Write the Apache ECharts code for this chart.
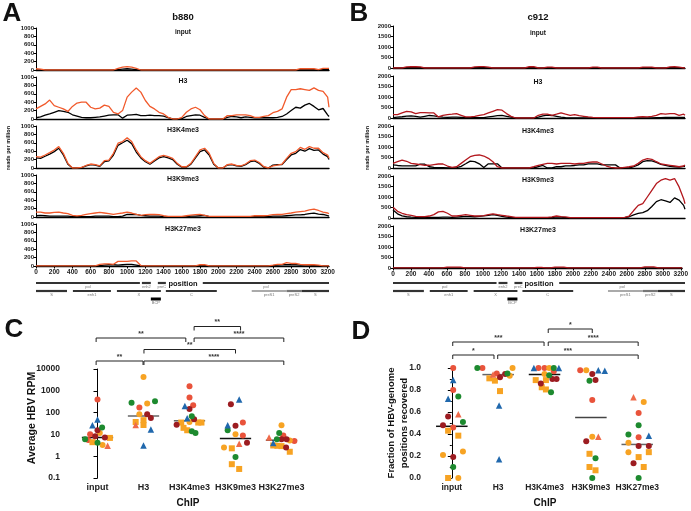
<!DOCTYPE html>
<html>
<head>
<meta charset="utf-8">
<script src="https://cdn.jsdelivr.net/npm/echarts@6/dist/echarts.min.js"></script>
<style>html,body{margin:0;padding:0;background:#fff}#main{width:691px;height:511px}</style>
</head>
<body>
<div id="main"></div>
<script>
var FF = '"Liberation Sans", Arial, sans-serif';

// genome positions of the coverage bins
var pos = [0,50,100,150,200,250,300,350,400,450,
  500,550,600,650,700,750,800,850,900,950,
  1000,1050,1100,1150,1200,1250,1300,1350,1400,1450,
  1500,1550,1600,1650,1700,1750,1800,1850,1900,1950,
  2000,2050,2100,2150,2200,2250,2300,2350,2400,2450,
  2500,2550,2600,2650,2700,2750,2800,2850,2900,2950,
  3000,3050,3100,3150,3200,3215];

var trackNames = ['input', 'H3', 'H3K4me3', 'H3K9me3', 'H3K27me3'];

// b880 (panel A), reads per million
var aInRed = [30,20,0,0,0,0,0,0,0,0, 0,0,0,0,0,0,0,0,40,70, 80,70,40,0,0,0,0,0,0,0, 0,0,0,0,0,0,0,0,0,0, 0,0,0,0,0,0,0,0,0,0, 0,0,0,0,0,0,0,0,30,30, 30,30,10,40,40,40];
var aInBlack = [5,5,0,0,0,0,0,0,0,0, 0,0,0,0,0,0,0,0,10,20, 30,20,10,0,0,0,0,0,0,0, 0,0,0,0,0,0,0,0,0,0, 0,0,0,0,0,0,0,0,0,0, 0,0,0,0,0,0,0,0,10,10, 10,10,0,10,10,10];
var aH3Red = [240,300,360,450,320,280,240,180,300,380, 400,400,280,240,260,330,300,160,120,200, 520,640,740,640,440,300,240,160,120,40, 0,0,40,160,240,280,220,80,0,0, 0,0,80,80,100,100,100,80,40,40, 60,80,150,180,240,520,700,700,720,700, 680,740,680,660,520,280];
var aH3Black = [30,50,90,120,160,200,180,160,100,70, 40,30,30,40,50,70,90,100,100,20, 90,100,110,80,80,90,80,80,70,30, 0,0,10,60,80,100,90,40,0,0, 0,0,40,60,50,30,50,40,30,30, 30,30,30,40,60,120,200,280,260,330, 370,300,220,250,100,60];
var aK4Red = [270,260,310,365,430,510,350,110,0,0, 15,60,95,80,50,175,190,350,590,630, 720,630,430,270,175,110,190,270,300,270, 230,110,30,30,110,270,430,470,350,110, 0,0,80,95,60,50,95,175,190,130, 30,0,50,70,95,230,350,390,490,445, 510,470,470,365,310,230];
var aK4Black = [240,230,280,330,390,470,310,90,0,0, 10,50,80,70,40,150,170,310,540,600, 660,580,380,240,150,90,170,240,270,240, 200,90,20,20,90,240,390,430,310,90, 0,0,70,80,50,40,80,150,170,110, 20,0,70,80,80,200,310,350,440,400, 460,420,430,330,270,200];
var aK9Red = [115,115,95,95,110,115,95,80,40,25, 40,60,80,95,110,95,80,60,80,95, 115,95,60,40,55,60,60,55,30,15, 15,15,15,30,45,55,60,40,15,15, 15,15,15,15,15,15,15,15,30,30, 30,40,55,60,60,80,95,115,130,140, 170,190,155,115,95,80];
var aK9Black = [30,40,30,20,20,20,20,20,10,10, 10,10,10,20,20,20,20,10,10,20, 60,60,60,40,30,20,20,20,10,5, 5,5,5,10,20,20,30,40,10,5, 5,5,5,5,5,5,5,5,10,10, 10,10,20,20,20,30,40,50,50,60, 80,90,70,60,30,20];
var aK27Red = [5,5,5,5,5,5,5,5,5,5, 5,5,5,5,40,50,50,40,110,110, 110,120,120,10,5,5,5,5,5,5, 5,5,5,5,5,5,30,30,5,5, 5,5,5,5,5,5,5,5,5,5, 5,5,20,40,40,80,60,60,40,30, 30,30,20,5,5,5];
var aK27Black = [0,0,0,0,0,0,0,0,0,0, 0,0,0,0,10,20,30,30,20,30, 40,40,20,0,0,0,0,0,0,0, 0,0,0,0,0,0,10,10,0,0, 0,0,0,0,0,0,0,0,0,0, 0,0,10,20,30,30,30,30,20,20, 20,10,10,0,0,0];

// c912 (panel B), reads per million
var bInRed = [0,0,0,50,60,60,50,0,0,0, 0,0,0,0,0,0,0,0,50,70, 70,40,0,0,0,0,0,0,0,0, 60,60,0,0,40,40,0,0,0,0, 0,0,0,0,40,40,0,0,0,0, 0,0,0,0,0,40,40,40,0,0, 0,50,60,40,0,0];
var bInBlack = [0,0,0,15,20,20,15,0,0,0, 0,0,0,0,0,0,0,0,15,20, 20,10,0,0,0,0,0,0,0,0, 20,20,0,0,15,15,0,0,0,0, 0,0,0,0,15,15,0,0,0,0, 0,0,0,0,0,15,15,15,0,0, 0,15,20,15,0,0];
var bH3Red = [160,160,240,320,290,210,260,260,240,240, 50,130,160,180,210,130,50,50,80,130, 160,240,320,400,370,210,80,0,0,0, 0,0,130,180,180,130,180,240,180,130, 160,110,80,50,30,15,15,15,15,15, 15,15,15,15,50,60,50,80,130,210, 180,210,210,130,180,130];
var bH3Black = [20,40,60,90,100,80,40,80,120,100, 70,40,30,40,40,30,20,20,20,20, 20,50,80,110,120,80,40,0,0,0, 0,0,40,100,140,120,80,40,20,10, 10,10,10,10,10,10,10,10,10,10, 10,10,10,10,10,10,10,10,20,20, 30,30,30,30,30,30];
var bK4Red = [220,300,380,320,220,190,160,130,130,160, 190,190,95,30,60,220,380,540,600,620, 570,460,300,60,0,0,0,0,0,0, 0,60,130,175,220,220,190,220,220,220, 190,220,220,270,285,285,190,95,30,0, 0,30,60,95,220,380,445,415,300,190, 160,130,95,60,95,140];
var bK4Black = [150,120,100,100,100,100,180,180,60,30, 20,20,10,0,20,80,200,330,300,200, 20,200,200,200,0,0,0,0,0,0, 0,0,60,120,0,0,60,60,100,100, 120,150,150,200,200,200,150,150,150,150, 0,0,0,60,150,300,350,340,270,170, 130,80,60,40,80,80];
var bK9Red = [515,320,225,160,130,80,65,65,95,160, 290,320,225,95,95,130,160,130,95,95, 110,160,195,160,130,95,65,30,30,30, 30,30,30,30,30,50,95,65,50,15, 15,15,15,15,15,15,15,15,15,15, 15,30,95,355,600,680,1000,1320,1640,1800, 1880,1800,1880,1480,920,680];
var bK9Black = [380,200,100,60,40,30,30,30,30,30, 30,40,40,30,40,60,80,70,60,80, 100,130,160,130,80,40,20,15,15,15, 15,15,15,15,15,15,60,40,20,15, 15,15,15,15,15,15,15,15,15,15, 15,20,60,150,220,260,350,550,780,870, 820,740,960,850,600,420];
var bK27Red = [5,5,5,5,5,5,5,5,5,5, 5,5,40,40,40,40,5,5,5,5, 5,5,5,5,5,5,5,5,5,5, 5,5,30,30,5,5,40,40,40,5, 5,5,5,5,5,5,5,5,5,5, 5,5,5,5,5,5,50,50,50,5, 5,5,5,5,5,5];
var bK27Black = [0,0,0,0,0,0,0,0,0,0, 0,0,10,10,10,10,0,0,0,0, 0,0,0,0,0,0,0,0,0,0, 0,0,5,5,0,0,10,10,10,0, 0,0,0,0,0,0,0,0,0,0, 0,0,0,0,0,0,10,10,10,0, 0,0,0,0,0,0];

// HBV genome annotation: [start, end, row, name]
var genes = [
  [0, 1140, 0, 'pol'], [1162, 1260, 0, 'enh2'], [1337, 1425, 0, 'preC'], [1830, 3215, 0, 'pol'],
  [0, 340, 1, 'S'], [405, 822, 1, 'enh1'], [888, 1370, 1, 'X'], [1425, 1984, 1, 'C'],
  [2367, 2750, 1, 'preS1'], [2750, 2915, 1, 'preS2'], [2915, 3215, 1, 'S'],
  [1260, 1370, 2, 'BCP']
];

var chipCats = ['input', 'H3', 'H3K4me3', 'H3K9me3', 'H3K27me3'];

// panel C: average HBV RPM, points as [category, spread, value]
var cRed = [[0,0,400],[0,-0.16,10.2],[0,-0.2,5.6],[1,-0.09,170],[2,0,1600],[2,0,490],[2,0.08,220],[3,0.16,35],[3,0.16,8.9],[4,0.04,8.9],[4,0.28,5]];
var cOrange = [[0,0.05,11.7],[0,0.11,3.3],[1,0,4300],[1,0.08,260],[1,-0.09,85],[2,0,37],[3,0,10.2],[3,-0.25,2.5],[4,0,26],[4,0.18,5.2]];
var cOrangeSq = [[0,0.27,6.9],[0,-0.11,4.4],[1,-0.17,37],[1,0,45],[1,0,27],[2,-0.18,35],[2,0.19,35],[2,0.26,35],[2,-0.13,20],[2,-0.05,15.5],[3,-0.08,2.3],[3,-0.08,0.43],[3,0.08,0.26],[4,-0.18,3.1],[4,-0.09,3],[4,0,2.9],[4,0.18,1.6]];
var cDarkRed = [[0,0,15.6],[0,-0.05,8.3],[0,0.16,7.2],[1,0.08,85],[1,0.16,57],[2,0,145],[2,0.1,50],[2,-0.28,28],[3,-0.1,240],[3,0,25],[3,0.25,4.1],[4,0,6],[4,0.11,6],[4,0.1,2.5]];
var cGreen = [[0,0.1,21],[0,-0.27,6],[0,0,4.1],[1,-0.26,280],[1,0.25,330],[2,0.05,68],[2,0.05,14],[2,0.13,11.7],[3,-0.17,15.5],[3,0,0.93],[4,-0.05,11.7],[4,-0.1,6]];
var cBlueTri = [[0,0,48],[0,-0.11,26],[1,0.16,17],[1,0,3.1],[2,-0.1,200],[2,-0.05,55],[3,0.08,400],[3,-0.17,26],[4,-0.18,4]];
var cRedTri = [[0,0.22,3.0],[1,-0.17,27],[3,0.08,3.7],[4,-0.27,7.2]];
var cMedian = [7.2, 70, 42, 6.5, 5.4];
// [from, to, level, label]
var cBrackets = [[-0.03,0.99,0,'**'],[1.01,4.05,0,'****'],[1.01,3.0,1,'**'],[-0.03,1.92,2,'**'],[2.1,4.05,2,'****'],[2.1,3.11,3,'**']];

// panel D: fraction of HBV-genome positions recovered
var dRed = [[0,0.03,1.0],[0,0.03,0.80],[0,0.03,0.46],[1,-0.34,1.0],[1,-0.03,0.95],[2,-0.13,1.0],[2,0,1.0],[2,0.2,0.97],[3,-0.23,0.98],[3,0.03,0.71],[4,0.03,0.59],[4,0.03,0.37]];
var dOrange = [[0,-0.19,0.21],[0,0.24,0.24],[0,0.14,0.0],[1,0.31,1.0],[1,0.25,0.93],[2,0.1,1.0],[2,0,0.945],[3,-0.1,0.98],[3,0.03,0.375],[4,0.14,0.69],[4,-0.19,0.32],[4,-0.19,0.235]];
var dOrangeSq = [[0,-0.08,0.43],[0,0.14,0.385],[0,-0.08,0.0],[1,-0.19,0.906],[1,-0.07,0.885],[1,0.04,0.79],[2,-0.19,0.89],[2,0.03,0.89],[2,-0.06,0.825],[2,0.03,0.805],[3,-0.03,0.22],[3,-0.03,0.10],[3,0.1,0.07],[4,0.25,0.235],[4,0.03,0.19],[4,0.14,0.10]];
var dDarkRed = [[0,-0.08,0.56],[0,-0.19,0.48],[0,0.03,0.19],[1,0.04,0.915],[1,0.15,0.945],[2,0.17,0.90],[2,0.26,0.90],[2,-0.08,0.86],[3,0.03,0.945],[3,0.1,0.89],[3,-0.1,0.335],[4,0.03,0.29],[4,0.25,0.29],[4,-0.08,0.135]];
var dGreen = [[0,0.14,0.74],[0,0.24,0.51],[0,0.03,0.10],[1,-0.45,1.0],[1,0.2,0.95],[2,0.2,1.0],[2,0.1,0.935],[2,0.14,0.78],[3,-0.03,0.885],[3,0.1,0.18],[3,0.03,0.0],[4,0.03,0.48],[4,-0.19,0.395],[4,0.03,0.0]];
var dBlueTri = [[0,0.03,0.89],[0,-0.08,0.72],[1,0.02,0.66],[1,0.02,0.17],[2,-0.23,1.0],[2,0.31,1.0],[3,0.16,0.98],[3,0.3,0.975],[4,0.25,0.385]];
var dRedTri = [[0,0.14,0.58],[1,-0.11,0.94],[3,0.16,0.375],[4,-0.08,0.735]];
var dMedian = [0.47, 0.94, 0.94, 0.55, 0.305];
var dBrackets = [[0.02,0.91,0,'*'],[0.99,4.02,0,'***'],[0.02,1.99,1,'***'],[2.08,4.02,1,'****'],[2.08,3.03,2,'*']];

var myChart = echarts.init(document.getElementById('main'));
var grids = [], xAxes = [], yAxes = [], series = [];

function plain(v) { return String(v); }

function lineSeries(i, vals, color) {
  return {
    type: 'line', xAxisIndex: i, yAxisIndex: i, showSymbol: false, silent: true,
    lineStyle: {color: color, width: 1.3},
    data: pos.map(function (p, k) { return [p, vals[k]]; })
  };
}

function addProfile(left, width, top, ymax, yint, red, black, redColor, last) {
  var i = grids.length;
  grids.push({left: left, top: top, width: width, height: 42});
  xAxes.push({
    gridIndex: i, type: 'value', min: 0, max: 3215, interval: 200,
    axisLine: {lineStyle: {color: '#000', width: 1.4}},
    axisTick: {show: last, length: 2.5, lineStyle: {color: '#000'}},
    axisLabel: {show: last, showMaxLabel: false, formatter: plain, fontSize: 6.5, fontWeight: 'bold', color: '#222', margin: 2.5, fontFamily: FF},
    splitLine: {show: false}
  });
  yAxes.push({
    gridIndex: i, type: 'value', min: 0, max: ymax, interval: yint,
    axisLine: {show: true, lineStyle: {color: '#000', width: 1}},
    axisTick: {show: true, length: 2.5, lineStyle: {color: '#000'}},
    axisLabel: {formatter: plain, fontSize: 6, fontWeight: 'bold', color: '#222', margin: 2, fontFamily: FF},
    splitLine: {show: false}
  });
  series.push(lineSeries(i, black, '#000'));
  series.push(lineSeries(i, red, redColor));
}

var profA = [[aInRed, aInBlack], [aH3Red, aH3Black], [aK4Red, aK4Black], [aK9Red, aK9Black], [aK27Red, aK27Black]];
var profB = [[bInRed, bInBlack], [bH3Red, bH3Black], [bK4Red, bK4Black], [bK9Red, bK9Black], [bK27Red, bK27Black]];
var topsA = [28, 77, 126, 175, 224];
var topsB = [26, 76, 126, 176, 226];
profA.forEach(function (p, k) { addProfile(36, 293, topsA[k], 1000, 200, p[0], p[1], '#f15a2c', k === 4); });
profB.forEach(function (p, k) { addProfile(393, 292, topsB[k], 2000, 500, p[0], p[1], '#b3171d', k === 4); });

var geneShade = {preS1: '#aaaaaa', preS2: '#777777', BCP: '#000'};
function addTracks(left, width) {
  var i = grids.length;
  grids.push({left: left, top: 279, width: width, height: 24});
  xAxes.push({gridIndex: i, type: 'value', min: 0, max: 3215, show: false});
  yAxes.push({gridIndex: i, type: 'value', min: -0.5, max: 2.5, inverse: true, show: false});
  series.push({
    type: 'custom', xAxisIndex: i, yAxisIndex: i, clip: false, silent: true,
    data: genes.map(function (g) { return [g[0], g[1], g[2]]; }),
    renderItem: function (params, api) {
      var g = genes[params.dataIndex];
      var s = api.coord([g[0], g[2]]);
      var e = api.coord([g[1], g[2]]);
      var h = g[2] === 2 ? 3 : 2.2;
      return {type: 'group', children: [
        {type: 'rect', shape: {x: s[0], y: s[1] - h / 2, width: e[0] - s[0], height: h},
          style: {fill: geneShade[g[3]] || '#333'}},
        {type: 'text', style: {text: g[3], x: (s[0] + e[0]) / 2, y: s[1] + h / 2 + 0.5,
          align: 'center', verticalAlign: 'top', fontSize: 4, fill: '#777', fontFamily: FF}}
      ]};
    }
  });
}
addTracks(36, 293);
addTracks(393, 292);

function addScatterPanel(cfg) {
  var i = grids.length;
  grids.push(cfg.grid);
  xAxes.push({
    gridIndex: i, type: 'value', min: cfg.xmin, max: cfg.xmax,
    axisLine: {show: false}, axisTick: {show: false}, splitLine: {show: false},
    axisLabel: {customValues: [0, 1, 2, 3, 4], formatter: function (v) { return chipCats[Math.round(v)]; },
      fontSize: cfg.catSize, fontWeight: 'bold', color: '#222', margin: 5, fontFamily: FF}
  });
  yAxes.push(Object.assign({
    gridIndex: i,
    axisLine: {show: true, lineStyle: {color: '#000', width: 1}},
    axisTick: {show: true, length: 4, lineStyle: {color: '#000'}},
    splitLine: {show: false}
  }, cfg.y));

  // medians
  series.push({
    type: 'custom', xAxisIndex: i, yAxisIndex: i, silent: true, clip: false,
    data: cfg.medians.map(function (m, k) { return [k, m]; }),
    renderItem: function (params, api) {
      var k = api.value(0), m = api.value(1);
      var a = api.coord([k - 0.34, m]), b = api.coord([k + 0.34, m]);
      return {type: 'line', shape: {x1: a[0], y1: a[1], x2: b[0], y2: b[1]},
        style: {stroke: cfg.medColors[k], lineWidth: 1.5}};
    }
  });

  cfg.groups.forEach(function (g) {
    series.push({
      type: 'scatter', xAxisIndex: i, yAxisIndex: i, silent: true,
      symbol: g[1], symbolSize: g[1] === 'triangle' ? 6.5 : 6,
      itemStyle: {color: g[2], opacity: 1},
      data: g[0].map(function (d) { return [d[0] + d[1], d[2]]; })
    });
  });

  // significance brackets above the plot
  series.push({
    type: 'custom', xAxisIndex: i, yAxisIndex: i, silent: true, clip: false,
    data: cfg.brackets.map(function (b) { return [b[0], cfg.yRef]; }),
    renderItem: function (params, api) {
      var b = cfg.brackets[params.dataIndex];
      var top = params.coordSys.y;
      var x1 = api.coord([b[0], cfg.yRef])[0];
      var x2 = api.coord([b[1], cfg.yRef])[0];
      var y = top - (cfg.bBase + cfg.bStep * b[2]);
      return {type: 'group', children: [
        {type: 'polyline', shape: {points: [[x1, y + 4], [x1, y], [x2, y], [x2, y + 4]]},
          style: {stroke: '#222', lineWidth: 1, fill: 'none'}},
        {type: 'text', style: {text: b[3], x: (x1 + x2) / 2, y: y - 0.5, align: 'center', verticalAlign: 'bottom',
          fontSize: 7, fontWeight: 'bold', fill: '#333', fontFamily: FF}}
      ]};
    }
  });
}

var RED = '#e9533b', ORANGE = '#f7a323', DARKRED = '#9c1c21', GREEN = '#1d8a2f', BLUE = '#2068ad', REDTRI = '#ef6a4a';

addScatterPanel({
  grid: {left: 63, top: 369, width: 253, height: 109},
  xmin: -0.75, xmax: 4.75, catSize: 9, yRef: 1,
  y: {type: 'log', logBase: 10, min: 0.1, max: 10000,
    axisLabel: {fontSize: 8.5, fontWeight: 'bold', color: '#222', margin: 3, fontFamily: FF,
      formatter: function (v) { return String(Math.round(v * 10) / 10); }}},
  medians: cMedian, medColors: ['#111', '#666', '#666', '#111', '#444'],
  groups: [[cRed, 'circle', RED], [cOrange, 'circle', ORANGE], [cOrangeSq, 'rect', ORANGE], [cDarkRed, 'circle', DARKRED],
    [cGreen, 'circle', GREEN], [cBlueTri, 'triangle', BLUE], [cRedTri, 'triangle', REDTRI]],
  brackets: cBrackets, bBase: 8, bStep: 11.5
});

addScatterPanel({
  grid: {left: 424, top: 368, width: 248, height: 110},
  xmin: -0.6, xmax: 4.75, catSize: 8.5, yRef: 0.5,
  y: {type: 'value', min: 0, max: 1, interval: 0.2,
    minorTick: {show: true, splitNumber: 2, length: 2, lineStyle: {color: '#000'}},
    axisLabel: {fontSize: 8.5, fontWeight: 'bold', color: '#222', margin: 3, fontFamily: FF,
      formatter: function (v) { return v.toFixed(1); }}},
  medians: dMedian, medColors: ['#111', '#666', '#111', '#444', '#666'],
  groups: [[dRed, 'circle', RED], [dOrange, 'circle', ORANGE], [dOrangeSq, 'rect', ORANGE], [dDarkRed, 'circle', DARKRED],
    [dGreen, 'circle', GREEN], [dBlueTri, 'triangle', BLUE], [dRedTri, 'triangle', REDTRI]],
  brackets: dBrackets, bBase: 13, bStep: 13
});

function txt(text, x, y, size, extra) {
  return Object.assign({type: 'text', x: x, y: y, silent: true,
    style: {text: text, fontSize: size, fontWeight: 'bold', fill: '#111', fontFamily: FF, align: 'center', verticalAlign: 'middle'}},
    extra || {});
}

var graphics = [
  txt('A', 12, 14, 26), txt('B', 359, 14, 26), txt('C', 14, 330, 26), txt('D', 361, 332, 26),
  txt('b880', 183, 17, 9.5), txt('c912', 538, 17, 9.5),
  txt('position', 183, 284, 7.5), txt('position', 539, 284, 7.5),
  txt('ChIP', 188, 503, 10), txt('ChIP', 545, 503, 10)
];
var subTitleY = [32, 81, 130, 179, 229];
trackNames.forEach(function (n, k) {
  graphics.push(txt(n, 183, subTitleY[k], n === 'input' ? 6.5 : 7));
  graphics.push(txt(n, 538, subTitleY[k] + 1, n === 'input' ? 6.5 : 7));
});
graphics.push(txt('reads per million', 8, 148, 5.5, {rotation: Math.PI / 2}));
graphics.push(txt('reads per million', 367, 148, 5.5, {rotation: Math.PI / 2}));
graphics.push(txt('Average HBV RPM', 32, 418, 10.5, {rotation: Math.PI / 2}));
graphics.push(txt('Fraction of HBV-genome', 391, 423, 9.5, {rotation: Math.PI / 2}));
graphics.push(txt('positions recovered', 404, 423, 9.5, {rotation: Math.PI / 2}));

var option = {
  backgroundColor: '#fff',
  animation: false,
  grid: grids,
  xAxis: xAxes,
  yAxis: yAxes,
  series: series,
  graphic: graphics
};
myChart.setOption(option, true);
</script>
</body>
</html>
